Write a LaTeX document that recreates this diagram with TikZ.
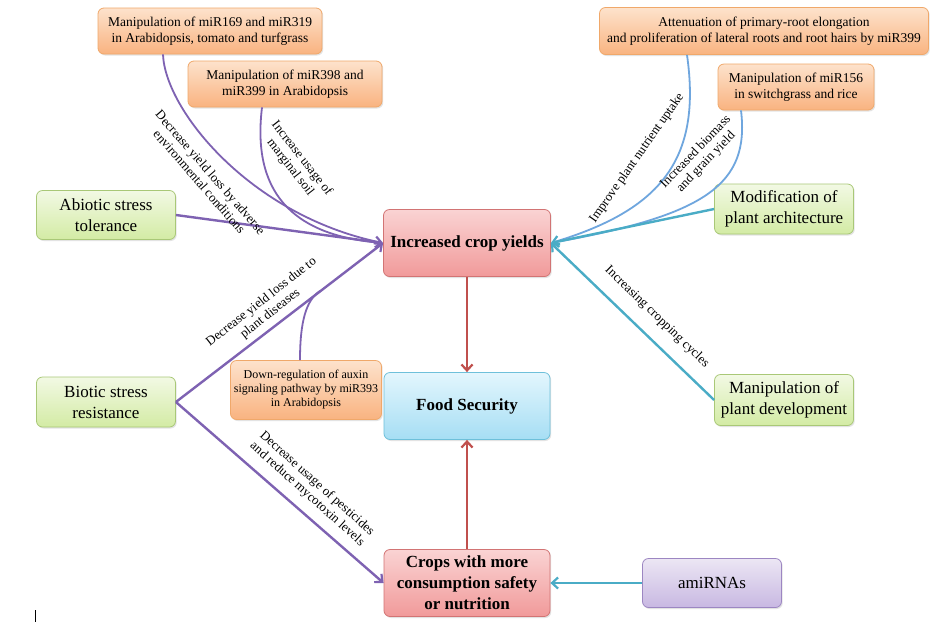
\documentclass[tikz,border=0pt]{standalone}
\usepackage{fontspec}
\setmainfont{Liberation Serif}
\usetikzlibrary{arrows.meta,shadows}
\definecolor{otop}{HTML}{FDE2CC}
\definecolor{obot}{HTML}{F9B380}
\definecolor{obord}{HTML}{F0A86A}
\definecolor{gtop}{HTML}{F2F9E4}
\definecolor{gbot}{HTML}{D3EBA4}
\definecolor{gbord}{HTML}{A9C877}
\definecolor{rtop}{HTML}{FAD3D3}
\definecolor{rbot}{HTML}{F19A9A}
\definecolor{rbord}{HTML}{D27474}
\definecolor{btop}{HTML}{E3F6FD}
\definecolor{bbot}{HTML}{A6DEF4}
\definecolor{bbord}{HTML}{6EC0DA}
\definecolor{ptop}{HTML}{ECE6F4}
\definecolor{pbot}{HTML}{C8B8E2}
\definecolor{pbord}{HTML}{9C86C2}
\definecolor{purpline}{HTML}{7E62B2}
\definecolor{blueline}{HTML}{6FA6DE}
\definecolor{tealline}{HTML}{4AACC6}
\definecolor{redline}{HTML}{C0504D}
\begin{document}
\begin{tikzpicture}[x=1pt,y=-1pt,
  box/.style={draw, rounded corners=6pt, line width=0.8pt, align=center, inner sep=2pt,
    drop shadow={shadow xshift=1.2pt,shadow yshift=-1.5pt,opacity=0.22}},
  obox/.style={box, draw=obord, top color=otop, bottom color=obot, font=\fontsize{13.5}{16}\selectfont},
  gbox/.style={box, draw=gbord, top color=gtop, bottom color=gbot, font=\fontsize{17}{21}\selectfont},
  rbox/.style={box, draw=rbord, top color=rtop, bottom color=rbot, font=\bfseries\fontsize{17}{21}\selectfont},
  bbox/.style={box, draw=bbord, top color=btop, bottom color=bbot, font=\bfseries\fontsize{17}{21}\selectfont},
  pbox/.style={box, draw=pbord, top color=ptop, bottom color=pbot, font=\fontsize{17}{21}\selectfont},
  lab/.style={font=\fontsize{13}{14.5}\selectfont, align=center, inner sep=0pt},
  tip/.style={-{Straight Barb[length=6pt,width=11pt,line width=2.2pt]}},
  pl/.style={draw=purpline, line width=2.4pt},
  pc/.style={draw=purpline, line width=1.8pt},
  bl/.style={draw=blueline, line width=1.8pt},
  tl/.style={draw=tealline, line width=2.4pt},
  rl/.style={draw=redline, line width=2.4pt},
]
\useasboundingbox (0,0) rectangle (943,625);
\fill[white] (0,0) rectangle (943,625);

% nodes
\node[obox, minimum width=224pt, minimum height=46pt] (A) at (210,31)
  {Manipulation of miR169 and miR319\\in Arabidopsis, tomato and turfgrass};
\node[obox, minimum width=194pt, minimum height=46pt] (B) at (285,84)
  {Manipulation of miR398 and\\miR399 in Arabidopsis};
\node[obox, minimum width=329pt, minimum height=47pt] (C) at (764,31)
  {Attenuation of primary-root elongation\\and proliferation of lateral roots and root hairs by miR399};
\node[obox, minimum width=156pt, minimum height=46pt] (D) at (796,87)
  {Manipulation of miR156\\in switchgrass and rice};
\node[obox, minimum width=151pt, minimum height=59pt, font=\fontsize{12}{14}\selectfont] (E) at (306,390)
  {Down-regulation of auxin\\signaling pathway by miR393\\in Arabidopsis};
\node[gbox, minimum width=139pt, minimum height=49pt] (abio) at (106,215) {Abiotic stress\\tolerance};
\node[gbox, minimum width=139pt, minimum height=50pt] (bio) at (106,402) {Biotic stress\\resistance};
\node[gbox, minimum width=139pt, minimum height=50pt] (mod) at (784,209) {Modification of\\plant architecture};
\node[gbox, minimum width=139pt, minimum height=51pt] (mdev) at (784,400) {Manipulation of\\plant development};
\node[rbox, minimum width=167pt, minimum height=67pt] (icy) at (467,243) {Increased crop yields};
\node[bbox, minimum width=166pt, minimum height=67pt] (fs) at (467,406) {Food Security};
\node[rbox, minimum width=166pt, minimum height=67pt] (crops) at (467,583) {Crops with more\\consumption safety\\or nutrition};
\node[pbox, minimum width=139pt, minimum height=49pt] (ami) at (712,583) {amiRNAs};

\coordinate (jE) at (320,291);

% purple connectors
\draw[pc, shorten >=4pt] (A.south -| 163,0) .. controls (165,110) and (250,215) .. (icy.west);
\draw[pc, shorten >=4pt] (B.south -| 262,0) .. controls (252,190) and (290,235) .. (icy.west);
\draw[pl, tip] (abio.east) -- (icy.west);
\draw[pl, tip] (bio.east) -- (icy.west);
\draw[pc] (E.north -| 300,0) .. controls (300,322) and (306,300) .. (jE);
\draw[pl, tip] (bio.east) -- (crops.west);

% blue connectors
\draw[bl, shorten >=4pt] (C.south -| 687,0) .. controls (702,160) and (660,210) .. (icy.east);
\draw[bl, shorten >=4pt] (D.south -| 741,0) .. controls (750,185) and (705,215) .. (icy.east);
\draw[tl, tip] (mod.west) -- (icy.east);
\draw[tl, tip] (mdev.west) -- (icy.east);
\draw[tl, tip] (ami.west) -- (crops.east);

% red connectors
\draw[rl, tip] (icy.south) -- (fs.north);
\draw[rl, tip] (crops.north) -- (fs.south);

% labels
\node[lab, rotate=-49] (l1) at (205,177) {Decrease yield loss by adverse\\environmental conditions};
\node[lab, rotate=-52] (l2) at (296,163) {Increase usage of\\marginal soil};
\node[lab, rotate=38] (l3) at (266,308) {Decrease yield loss due to\\plant diseases};
\node[lab, rotate=-42] (l4) at (312,489) {Decrease usage of pesticides\\and reduce mycotoxin levels};
\node[lab, rotate=55] (l5) at (637,158) {Improve plant nutrient uptake};
\node[lab, rotate=46] (l6) at (701,157) {Increased biomass\\and grain yield};
\node[lab, rotate=-44] (l7) at (657,317) {Increasing cropping cycles};

% stray cursor mark
\draw[black, line width=0.8pt] (35,610) -- (35,622);
\end{tikzpicture}
\end{document}
